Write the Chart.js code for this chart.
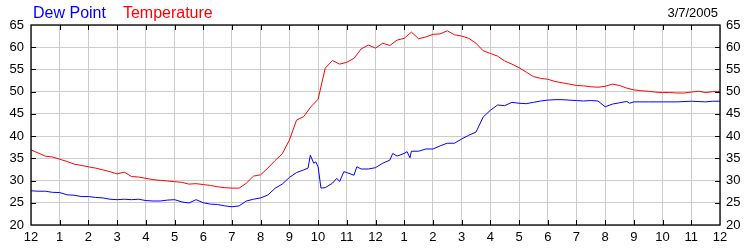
<!DOCTYPE html>
<html>
<head>
<meta charset="utf-8">
<script src="https://cdn.jsdelivr.net/npm/chart.js@4.4.1/dist/chart.umd.min.js"></script>
<style>
  body { margin: 0; background: #fff; }
  #wrap { width: 750px; height: 250px; }
</style>
</head>
<body>
<div id="wrap"><canvas id="chart" width="750" height="250"></canvas></div>
<script>
// readings for 3/7/2005, hours after midnight
const dateLabel = '3/7/2005';

const tempHours = [
  0, 0.25, 0.5, 0.75, 1, 1.25, 1.5, 1.75, 2, 2.25, 2.5, 2.75, 3, 3.25, 3.5, 3.75,
  4, 4.25, 4.5, 4.75, 5, 5.25, 5.5, 5.75, 6, 6.25, 6.5, 6.75, 7, 7.25, 7.5, 7.75,
  8, 8.25, 8.5, 8.75, 9, 9.25, 9.5, 9.75, 10, 10.25, 10.5, 10.75, 11, 11.25, 11.5, 11.75,
  12, 12.25, 12.5, 12.75, 13, 13.25, 13.5, 13.75, 14, 14.25, 14.5, 14.75, 15, 15.25, 15.5, 15.75,
  16, 16.25, 16.5, 16.75, 17, 17.25, 17.5, 17.75, 18, 18.25, 18.5, 18.75, 19, 19.25, 19.5, 19.75,
  20, 20.25, 20.5, 20.75, 21, 21.25, 21.5, 21.75, 22, 22.25, 22.5, 22.75, 23, 23.25, 23.5, 23.75, 24
];
const tempValues = [
  36.9, 36.2, 35.5, 35.3, 34.8, 34.3, 33.7, 33.4, 33.1, 32.8, 32.4, 32.0, 31.5, 31.9, 30.9, 30.8,
  30.5, 30.2, 30.05, 29.9, 29.75, 29.6, 29.2, 29.3, 29.1, 28.9, 28.6, 28.4, 28.3, 28.3, 29.4, 31.0,
  31.3, 32.8, 34.5, 36.0, 39.1, 43.6, 44.4, 46.6, 48.3, 55.3, 57.0, 56.2, 56.6, 57.5, 59.6, 60.5,
  59.8, 60.9, 60.4, 61.6, 62.0, 63.4, 61.9, 62.3, 62.9, 63.0, 63.7, 62.8, 62.5, 62.0, 60.9, 59.2,
  58.6, 58.0, 56.9, 56.2, 55.4, 54.4, 53.4, 53.0, 52.8, 52.3, 52.0, 51.7, 51.4, 51.3, 51.1, 51.0,
  51.2, 51.7, 51.4, 50.8, 50.4, 50.2, 50.1, 49.9, 49.8, 49.8, 49.7, 49.7, 49.9, 50.1, 49.8, 50.0, 50.0
];

const dewHours = [
  0, 0.25, 0.5, 0.75, 1, 1.25, 1.5, 1.75, 2, 2.25, 2.5, 2.75, 3, 3.25, 3.5, 3.75,
  4, 4.25, 4.5, 4.75, 5, 5.25, 5.5, 5.75, 6, 6.25, 6.5, 6.75, 7, 7.25, 7.5, 7.75,
  8, 8.25, 8.5, 8.75, 9, 9.25, 9.5, 9.65, 9.73, 9.85, 9.92, 10, 10.1, 10.25, 10.5, 10.65, 10.75, 10.9,
  11, 11.25, 11.35, 11.5, 11.75, 12, 12.25, 12.5, 12.6, 12.75, 13, 13.1, 13.2, 13.25, 13.5, 13.75,
  14, 14.25, 14.5, 14.75, 15, 15.25, 15.5, 15.75, 16, 16.25, 16.5, 16.75, 17, 17.25, 17.5, 17.75,
  18, 18.25, 18.5, 18.75, 19, 19.25, 19.5, 19.75, 20, 20.25, 20.5, 20.75, 20.85, 21, 21.5, 22,
  22.5, 23, 23.5, 23.75, 24
];
const dewValues = [
  27.7, 27.6, 27.6, 27.35, 27.3, 26.8, 26.7, 26.4, 26.4, 26.2, 26.1, 25.8, 25.7, 25.8, 25.7, 25.8,
  25.5, 25.4, 25.4, 25.6, 25.7, 25.2, 24.95, 25.7, 25.0, 24.7, 24.6, 24.3, 24.1, 24.3, 25.4, 25.8,
  26.1, 26.75, 28.25, 29.2, 30.7, 31.8, 32.4, 32.8, 35.7, 33.9, 34.2, 33.1, 28.3, 28.4, 29.4, 30.5, 29.8, 32.0,
  31.8, 31.2, 33.1, 32.6, 32.6, 32.9, 33.9, 34.6, 36.1, 35.5, 36.1, 36.5, 35.1, 36.6, 36.6, 37.1,
  37.1, 37.8, 38.4, 38.4, 39.35, 40.2, 40.9, 44.3, 45.8, 47.0, 46.85, 47.6, 47.4, 47.3, 47.6, 47.9,
  48.1, 48.2, 48.2, 48.1, 48.0, 47.9, 48.0, 47.9, 46.6, 47.2, 47.5, 47.8, 47.4, 47.7, 47.7, 47.7,
  47.7, 47.85, 47.7, 47.85, 47.85
];

const yMin = 20;
const yMax = 65;
const yStep = 5;

const font = "'Liberation Sans', Arial, sans-serif";
const gridColor = 'rgb(204,204,204)';

function toPoints(hours, values) {
  return hours.map((h, i) => ({ x: h, y: values[i] }));
}

function hourLabel(v) {
  const h = v % 12;
  return h === 0 ? '12' : String(h);
}

// legend text, date, frame and inward tick marks
const decorations = {
  id: 'decorations',
  afterDraw(chart) {
    const ctx = chart.ctx;
    const area = chart.chartArea;
    ctx.save();

    ctx.font = '16px ' + font;
    ctx.textBaseline = 'alphabetic';
    ctx.textAlign = 'left';
    let x = 33;
    chart.data.datasets.forEach(ds => {
      ctx.fillStyle = ds.borderColor;
      ctx.fillText(ds.label, x, 18);
      x += ctx.measureText(ds.label).width + 17;
    });

    ctx.font = '13px ' + font;
    ctx.fillStyle = '#000';
    ctx.textAlign = 'right';
    ctx.fillText(dateLabel, area.right - 2, 17);

    ctx.strokeStyle = '#000';
    ctx.lineWidth = 1;
    const xs = chart.scales.x;
    const ys = chart.scales.y;
    ctx.beginPath();
    for (let h = 1; h < 24; h++) {
      const px = Math.round(xs.getPixelForValue(h)) + 0.5;
      ctx.moveTo(px, area.top);
      ctx.lineTo(px, area.top + 5);
      ctx.moveTo(px, area.bottom);
      ctx.lineTo(px, area.bottom - 5);
    }
    for (let v = yMin + yStep; v < yMax; v += yStep) {
      const py = Math.round(ys.getPixelForValue(v)) + 0.5;
      ctx.moveTo(area.left, py);
      ctx.lineTo(area.left + 5, py);
      ctx.moveTo(area.right, py);
      ctx.lineTo(area.right - 5, py);
    }
    ctx.stroke();

    ctx.lineWidth = 1.3;
    ctx.strokeRect(Math.round(area.left), Math.round(area.top),
      Math.round(area.right - area.left), Math.round(area.bottom - area.top));
    ctx.restore();
  }
};

const tickFont = { family: font, size: 13 };

new Chart(document.getElementById('chart'), {
  type: 'line',
  data: {
    datasets: [
      {
        label: 'Dew Point',
        data: toPoints(dewHours, dewValues),
        borderColor: '#0000ff',
        borderWidth: 1,
        pointRadius: 0,
        tension: 0
      },
      {
        label: 'Temperature',
        data: toPoints(tempHours, tempValues),
        borderColor: '#ff0000',
        borderWidth: 1,
        pointRadius: 0,
        tension: 0
      }
    ]
  },
  options: {
    responsive: false,
    animation: false,
    events: [],
    layout: { padding: { top: 25, left: 0, right: 0, bottom: 0 } },
    plugins: {
      legend: { display: false },
      tooltip: { enabled: false }
    },
    scales: {
      x: {
        type: 'linear',
        min: 0,
        max: 24,
        afterFit(scale) { scale.height = 25; },
        afterBuildTicks(scale) {
          scale.ticks = [];
          for (let h = 0; h <= 24; h++) scale.ticks.push({ value: h });
        },
        grid: { color: gridColor, drawTicks: false },
        border: { display: false },
        ticks: {
          font: tickFont,
          color: '#000',
          padding: 5,
          maxRotation: 0,
          autoSkip: false,
          callback: hourLabel
        }
      },
      y: {
        position: 'left',
        min: yMin,
        max: yMax,
        afterFit(scale) { scale.width = 31; },
        grid: { color: gridColor, drawTicks: false },
        border: { display: false },
        ticks: { stepSize: yStep, font: tickFont, color: '#000', padding: 7 }
      },
      y2: {
        position: 'right',
        min: yMin,
        max: yMax,
        afterFit(scale) { scale.width = 30; },
        grid: { display: false, drawTicks: false },
        border: { display: false },
        ticks: { stepSize: yStep, font: tickFont, color: '#000', padding: 6 }
      }
    }
  },
  plugins: [decorations]
});
</script>
</body>
</html>
